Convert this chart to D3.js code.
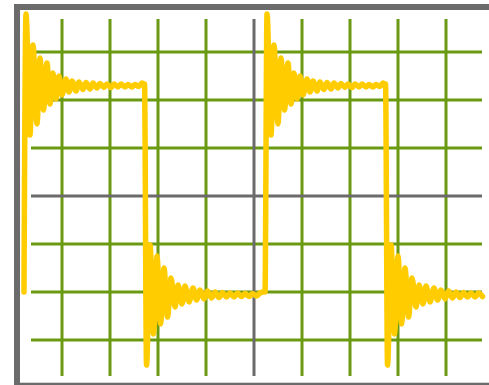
<!DOCTYPE html>
<html>
<head>
<meta charset="utf-8">
<script src="https://cdn.jsdelivr.net/npm/d3@7"></script>
<style>
  html, body { margin: 0; padding: 0; background: #ffffff; }
  svg { display: block; }
</style>
</head>
<body>
<svg id="scope" width="489" height="385"></svg>
<script>
// Screen divisions (time axis in div, amplitude in div)
const timeDivs = [-4, -3, -2, -1, 0, 1, 2, 3, 4];
const voltDivs = [-3, -2, -1, 0, 1, 2, 3];

// Edge instants of the square wave and their direction
const edgeTimes = [-4.792, -2.281, 0.229, 2.740];
const edgeKinds = ["rise", "fall", "rise", "fall"];
const traceEnd = 4.80;

// Sampled response after a rising edge (time offset from edge, amplitude)
const riseTime = [0, 0.042, 0.125, 0.1875, 0.271, 0.333, 0.406, 0.479, 0.542, 0.604,
  0.667, 0.729, 0.792, 0.875, 0.9375, 1.0, 1.083, 1.146, 1.229, 1.292,
  1.375, 1.4375, 1.521, 1.583, 1.667, 1.729, 1.8125, 1.875, 1.958, 2.021,
  2.104, 2.167, 2.25, 2.3125, 2.396, 2.458, 2.49];
const riseVolts = [-2.0, 3.792, 1.271, 3.146, 1.5, 2.875, 1.792, 2.771, 1.917, 2.5625,
  2.021, 2.5, 2.104, 2.4375, 2.167, 2.396, 2.1875, 2.375, 2.219, 2.365,
  2.229, 2.354, 2.25, 2.344, 2.26, 2.333, 2.26, 2.333, 2.271, 2.333,
  2.271, 2.323, 2.271, 2.323, 2.281, 2.354, 2.333];

// Sampled response after a falling edge
const fallTime = [0, 0.042, 0.115, 0.1875, 0.26, 0.333, 0.406, 0.479, 0.552, 0.635,
  0.698, 0.781, 0.844, 0.927, 1.01, 1.083, 1.156, 1.24, 1.3125, 1.396,
  1.469, 1.552, 1.625, 1.708, 1.781, 1.865, 1.9375, 2.021, 2.094, 2.177,
  2.25, 2.333, 2.406, 2.479];
const fallVolts = [2.333, -3.521, -1.021, -2.875, -1.25, -2.667, -1.5, -2.521, -1.708, -2.3125,
  -1.854, -2.25, -1.875, -2.208, -1.917, -2.167, -1.958, -2.146, -1.979, -2.125,
  -2.0, -2.115, -2.01, -2.104, -2.021, -2.104, -2.021, -2.094, -2.031, -2.094,
  -2.031, -2.083, -2.021, -2.0];

const svg = d3.select("#scope");

const x = d3.scaleLinear().domain([-5, 5]).range([14, 494]);
const y = d3.scaleLinear().domain([-4, 4]).range([388, 4]);

const GREEN = "#6a9a12";
const GRAY = "#6b6b6b";

// Graticule extents
const gridLeft = 31, gridRight = 482, gridTop = 19, gridBottom = 376;

function drawGrid(tTicks, vTicks, color) {
  const vAxis = d3.axisBottom(x)
    .tickValues(tTicks)
    .tickSize(-(gridBottom - gridTop))
    .tickSizeOuter(0)
    .tickFormat("")
    .offset(0);
  const hAxis = d3.axisLeft(y)
    .tickValues(vTicks)
    .tickSize(-(gridRight - gridLeft))
    .tickSizeOuter(0)
    .tickFormat("")
    .offset(0);
  const style = g => {
    g.select(".domain").remove();
    g.selectAll(".tick line").attr("stroke", color).attr("stroke-width", 3);
  };
  svg.append("g").attr("transform", `translate(0,${gridBottom})`).call(vAxis).call(style);
  svg.append("g").attr("transform", `translate(${gridLeft},0)`).call(hAxis).call(style);
}

// Green graticule, then the grey centre cross on top
drawGrid(timeDivs.filter(d => d !== 0), voltDivs.filter(d => d !== 0), GREEN);
drawGrid([0], [0], GRAY);

// Assemble the trace from the edge list and the sampled responses
const trace = [];
edgeTimes.forEach((t0, i) => {
  const next = i + 1 < edgeTimes.length ? edgeTimes[i + 1] : traceEnd;
  const dts = edgeKinds[i] === "rise" ? riseTime : fallTime;
  const vs = edgeKinds[i] === "rise" ? riseVolts : fallVolts;
  dts.forEach((dt, j) => {
    if (t0 + dt < next) trace.push([t0 + dt, vs[j]]);
  });
});

const line = d3.line()
  .x(d => x(d[0]))
  .y(d => y(d[1]))
  .curve(d3.curveMonotoneX);

svg.append("path")
  .datum(trace)
  .attr("d", line)
  .attr("fill", "none")
  .attr("stroke", "#ffcc00")
  .attr("stroke-width", 5.5)
  .attr("stroke-linejoin", "round")
  .attr("stroke-linecap", "round");

// Bezel
svg.append("rect")
  .attr("x", 17)
  .attr("y", 7)
  .attr("width", 480)
  .attr("height", 378.7)
  .attr("fill", "none")
  .attr("stroke", GRAY)
  .attr("stroke-width", 6);
</script>
</body>
</html>
